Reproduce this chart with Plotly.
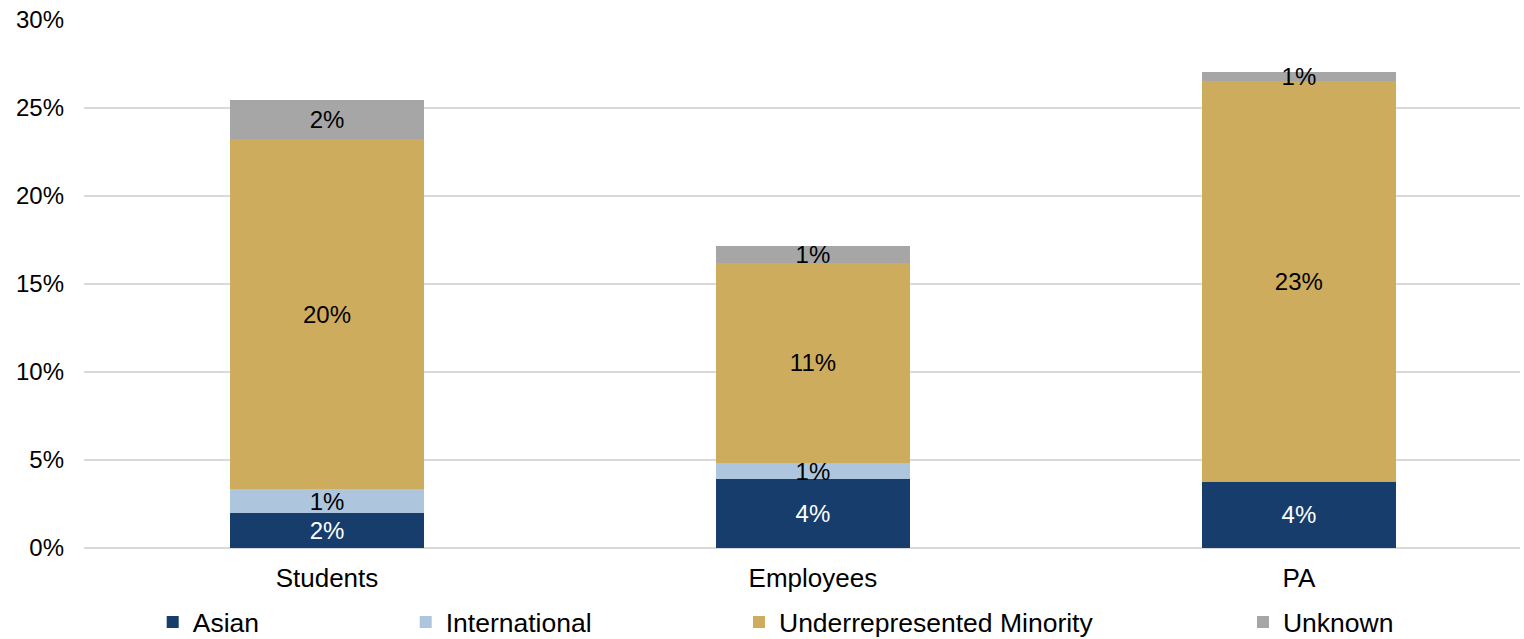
import plotly.graph_objects as go

# Share of each group by race/ethnicity category (percent)
categories = ["Students", "Employees", "PA"]
asian = [1.97, 3.90, 3.77]
international = [1.38, 0.95, 0.0]
underrepresented = [19.87, 11.36, 22.76]
unknown = [2.23, 0.97, 0.52]

y_ticks = [0, 5, 10, 15, 20, 25, 30]
y_tick_labels = ["0%", "5%", "10%", "15%", "20%", "25%", "30%"]

FONT = "Arial, 'Liberation Sans', sans-serif"

# name, values, fill, label colour, legend id, legend x (container fraction)
series = [
    ("Asian", asian, "#163D6C", "#FFFFFF", "legend", 0.1002),
    ("International", international, "#ADC6DE", "#000000", "legend2", 0.2662),
    ("Underrepresented Minority", underrepresented, "#CEAC5E", "#000000", "legend3", 0.4849),
    ("Unknown", unknown, "#A6A6A6", "#000000", "legend4", 0.8156),
]

fig = go.Figure()
for name, values, color, text_color, legend_id, _ in series:
    fig.add_trace(go.Bar(
        name=name,
        x=categories,
        y=values,
        marker=dict(color=color, line=dict(width=0)),
        text=[f"{v:.0f}%" if v > 0 else "" for v in values],
        textposition="inside",
        insidetextanchor="middle",
        textangle=0,
        constraintext="none",
        textfont=dict(family=FONT, size=24, color=text_color),
        legend=legend_id,
        showlegend=True,
        hovertemplate="%{x}: %{y:.1f}%<extra>" + name + "</extra>",
    ))

legend_base = dict(
    orientation="h",
    xref="container",
    yref="container",
    y=0.026,
    yanchor="middle",
    xanchor="left",
    font=dict(family=FONT, size=26.5, color="#000000"),
    bgcolor="rgba(0,0,0,0)",
    borderwidth=0,
    visible=True,
)
legend_layout = {}
for _, _, _, _, legend_id, xpos in series:
    legend_layout[legend_id] = dict(legend_base, x=xpos)

fig.update_layout(
    barmode="stack",
    bargap=0.6,
    width=1524,
    height=639,
    margin=dict(l=84, r=4, t=20, b=91),
    paper_bgcolor="#FFFFFF",
    plot_bgcolor="#FFFFFF",
    font=dict(family=FONT, color="#000000"),
    showlegend=True,
    uniformtext=dict(minsize=24, mode="show"),
    xaxis=dict(
        range=[-0.5, 2.455],
        showgrid=False,
        showline=False,
        zeroline=False,
        tickfont=dict(family=FONT, size=26, color="#000000"),
        ticks="",
        ticklabelstandoff=12,
    ),
    yaxis=dict(
        range=[0, 30],
        tickvals=y_ticks,
        ticktext=y_tick_labels,
        showgrid=True,
        gridcolor="#D9D9D9",
        gridwidth=2,
        zeroline=True,
        zerolinecolor="#D9D9D9",
        zerolinewidth=2,
        showline=False,
        ticks="",
        tickfont=dict(family=FONT, size=24, color="#000000"),
        ticklabelstandoff=19,
    ),
    **legend_layout,
)

fig.write_html("out.html")
